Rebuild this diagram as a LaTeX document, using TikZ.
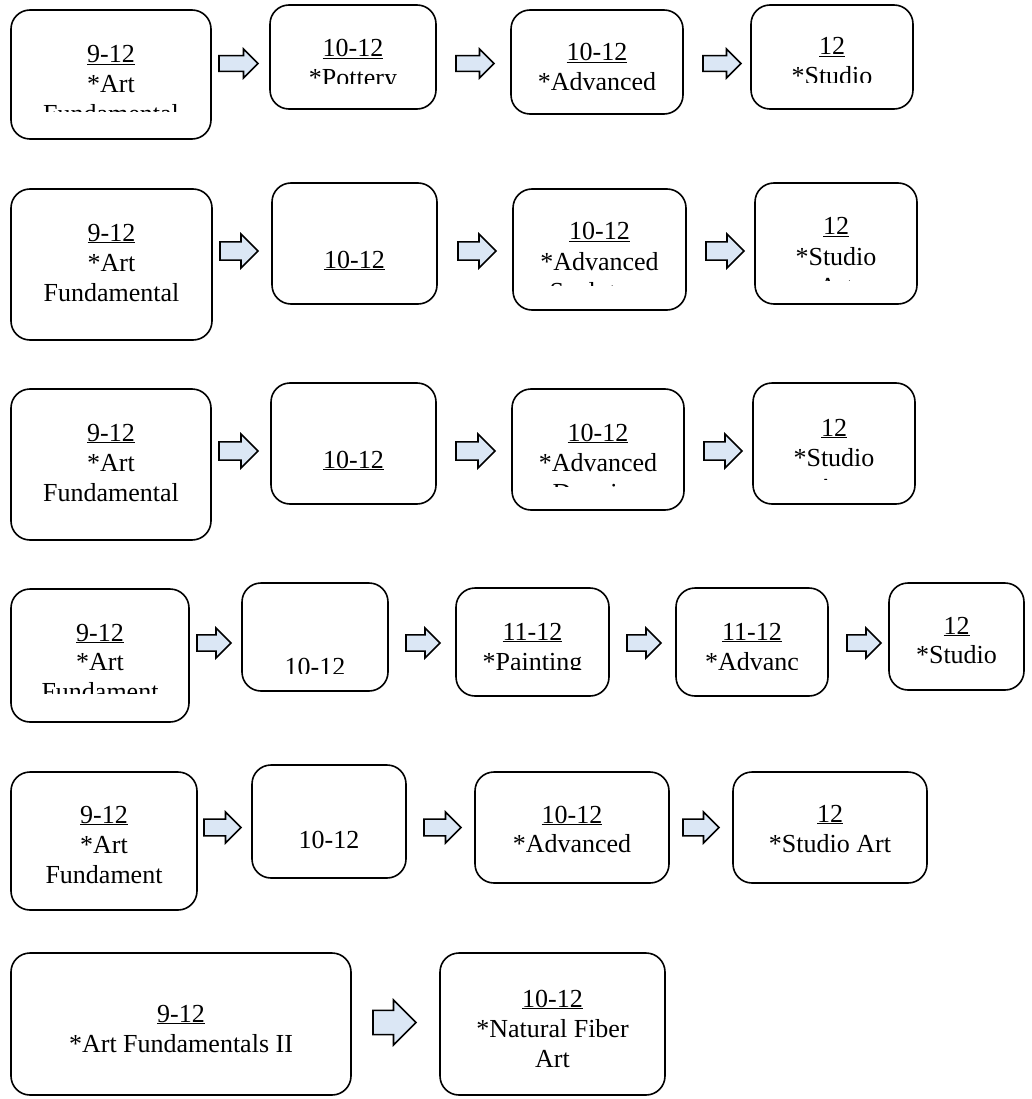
\documentclass[tikz,border=0pt]{standalone}
\usepackage{fontspec}
\setmainfont{Liberation Serif}
\usetikzlibrary{fit}
\definecolor{arrowblue}{RGB}{219,231,245}
\tikzset{
  cbox/.style={draw=black, line width=1.6pt, rounded corners=19pt, inner sep=0pt, fill=none},
  txt/.style={inner sep=0pt, anchor=base, font=\fontsize{26}{29.5}\selectfont, text=black},
  arrsty/.style={draw=black, line width=1.6pt, fill=arrowblue, line join=miter},
}
\newcommand\ul[1]{\underline{#1}}
% box: name, x1, y1, x2, y2
\newcommand\cb[5]{\node[cbox, fit={(#2,#3) (#4,#5)}] (#1) {};}
% text line: name, x, baseline, text
\newcommand\tl[4]{\node[txt] (#1) at (#2,#3) {#4};}
% block arrow: name, cx, cy, w, h
\newcommand\barrow[5]{%
  \pgfmathsetmacro\bax{#2-#4/2}\pgfmathsetmacro\bbx{#2+#4/2-#5/2}\pgfmathsetmacro\bcx{#2+#4/2}%
  \pgfmathsetmacro\bay{#3-0.27*#5}\pgfmathsetmacro\bby{#3+0.27*#5}%
  \pgfmathsetmacro\bcy{#3-#5/2}\pgfmathsetmacro\bdy{#3+#5/2}%
  \node[coordinate] (#1) at (#2,#3) {};
  \draw[arrsty] (\bax,\bay) -- (\bbx,\bay) -- (\bbx,\bcy) -- (\bcx,#3) -- (\bbx,\bdy) -- (\bbx,\bby) -- (\bax,\bby) -- cycle;}
\begin{document}
\begin{tikzpicture}[x=1pt,y=-1pt]
\useasboundingbox (0,0) rectangle (1031,1099);

% ---------- Row 1 ----------
\cb{a1}{11}{10}{211}{139}
\begin{scope}\clip (11,10) rectangle (211,112);
\tl{a1l1}{111}{62.5}{\ul{9-12}}\tl{a1l2}{111}{92.5}{*Art}\tl{a1l3}{111}{122.5}{Fundamental}
\end{scope}
\cb{b1}{270}{5}{436}{109}
\begin{scope}\clip (270,5) rectangle (436,83.5);
\tl{b1l1}{353}{57}{\ul{10-12}}\tl{b1l2}{353}{87}{*Pottery}
\end{scope}
\cb{c1}{511}{10}{683}{114}
\begin{scope}\clip (511,10) rectangle (683,90);
\tl{c1l1}{597}{61}{\ul{10-12}}\tl{c1l2}{597}{91}{*Advanced}
\end{scope}
\cb{d1}{751}{5}{913}{109}
\begin{scope}\clip (751,5) rectangle (913,83);
\tl{d1l1}{832}{55}{\ul{12}}\tl{d1l2}{832}{85}{*Studio}
\end{scope}
\barrow{r1a}{238.5}{63.5}{39}{29}
\barrow{r1b}{475}{63.5}{38}{29}
\barrow{r1c}{722}{63.5}{38}{29}

% ---------- Row 2 ----------
\cb{a2}{11}{189}{212}{340}
\tl{a2l1}{111.5}{241}{\ul{9-12}}\tl{a2l2}{111.5}{271}{*Art}\tl{a2l3}{111.5}{301}{Fundamental}
\cb{b2}{272}{183}{437}{304}
\tl{b2l1}{354.5}{268}{\ul{10-12}}
\cb{c2}{513}{189}{686}{310}
\begin{scope}\clip (513,189) rectangle (686,285.5);
\tl{c2l1}{599.5}{240}{\ul{10-12}}\tl{c2l2}{599.5}{270}{*Advanced}\tl{c2l3}{599.5}{300}{Sculpture}
\end{scope}
\cb{d2}{755}{183}{917}{304}
\begin{scope}\clip (755,183) rectangle (917,280);
\tl{d2l1}{836}{235}{\ul{12}}\tl{d2l2}{836}{265}{*Studio}\tl{d2l3}{836}{295}{Art}
\end{scope}
\barrow{r2a}{239}{251}{38}{34}
\barrow{r2b}{477}{251}{38}{34}
\barrow{r2c}{725}{251}{38}{34}

% ---------- Row 3 ----------
\cb{a3}{11}{389}{211}{540}
\tl{a3l1}{111}{441}{\ul{9-12}}\tl{a3l2}{111}{471}{*Art}\tl{a3l3}{111}{501}{Fundamental}
\cb{b3}{271}{383}{436}{504}
\tl{b3l1}{353.5}{468}{\ul{10-12}}
\cb{c3}{512}{389}{684}{510}
\begin{scope}\clip (512,389) rectangle (684,486);
\tl{c3l1}{598}{441}{\ul{10-12}}\tl{c3l2}{598}{471}{*Advanced}\tl{c3l3}{598}{501}{Drawing}
\end{scope}
\cb{d3}{753}{383}{915}{504}
\begin{scope}\clip (753,383) rectangle (915,479.5);
\tl{d3l1}{834}{436}{\ul{12}}\tl{d3l2}{834}{466}{*Studio}\tl{d3l3}{834}{496}{Art}
\end{scope}
\barrow{r3a}{238.5}{451}{39}{34}
\barrow{r3b}{475.5}{451}{39}{34}
\barrow{r3c}{723}{451}{38}{34}

% ---------- Row 4 ----------
\cb{a4}{11}{589}{189}{722}
\begin{scope}\clip (11,589) rectangle (189,693);
\tl{a4l1}{100}{641}{\ul{9-12}}\tl{a4l2}{100}{670}{*Art}\tl{a4l3}{100}{700}{Fundament}
\end{scope}
\cb{b4}{242}{583}{388}{691}
\begin{scope}\clip (242,583) rectangle (388,673);
\tl{b4l1}{315}{675}{10-12}
\end{scope}
\cb{c4}{456}{588}{609}{696}
\begin{scope}\clip (456,588) rectangle (609,669);
\tl{c4l1}{532.5}{640}{\ul{11-12}}\tl{c4l2}{532.5}{670}{*Painting}
\end{scope}
\cb{d4}{676}{588}{828}{696}
\begin{scope}\clip (676,588) rectangle (828,669);
\tl{d4l1}{752}{640}{\ul{11-12}}\tl{d4l2}{752}{670}{*Advanc}
\end{scope}
\cb{e4}{889}{583}{1024}{690}
\tl{e4l1}{956.5}{634}{\ul{12}}\tl{e4l2}{956.5}{663}{*Studio}
\barrow{r4a}{214}{643}{34}{30}
\barrow{r4b}{423}{643}{34}{30}
\barrow{r4c}{644}{643}{34}{30}
\barrow{r4d}{864}{643}{34}{30}

% ---------- Row 5 ----------
\cb{a5}{11}{772}{197}{910}
\tl{a5l1}{104}{823}{\ul{9-12}}\tl{a5l2}{104}{853}{*Art}\tl{a5l3}{104}{883}{Fundament}
\cb{b5}{252}{765}{406}{878}
\tl{b5l1}{329}{848}{10-12}
\cb{c5}{475}{772}{669}{883}
\tl{c5l1}{572}{823}{\ul{10-12}}\tl{c5l2}{572}{852}{*Advanced}
\cb{d5}{733}{772}{927}{883}
\tl{d5l1}{830}{822}{\ul{12}}\tl{d5l2}{830}{852}{*Studio Art}
\barrow{r5a}{222.5}{827.5}{37}{31}
\barrow{r5b}{442.5}{827.5}{37}{31}
\barrow{r5c}{701}{827.5}{36}{31}

% ---------- Row 6 ----------
\cb{a6}{11}{953}{351}{1095}
\tl{a6l1}{181}{1022}{\ul{9-12}}\tl{a6l2}{181}{1052}{*Art Fundamentals II}
\cb{b6}{440}{953}{665}{1095}
\tl{b6l1}{552.5}{1007}{\ul{10-12}}\tl{b6l2}{552.5}{1037}{*Natural Fiber}\tl{b6l3}{552.5}{1067}{Art}
\barrow{r6a}{394.5}{1022.5}{43}{45}
\end{tikzpicture}
\end{document}
